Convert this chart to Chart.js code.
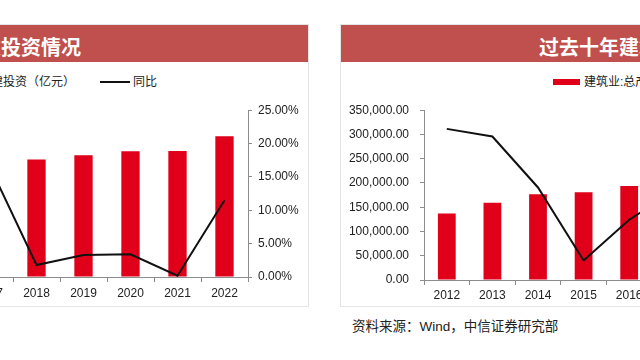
<!DOCTYPE html>
<html>
<head>
<meta charset="utf-8">
<script src="https://cdn.jsdelivr.net/npm/chart.js@4/dist/chart.umd.min.js"></script>
<style>
  body { margin: 0; width: 640px; height: 360px; overflow: hidden; position: relative; background: #fff;
         font-family: "Liberation Sans", "Noto Sans CJK SC", sans-serif; color: #222; }
  .panel { position: absolute; top: 24px; height: 283px; border: 1px solid #e4e4e4; box-sizing: border-box; }
  .head { position: absolute; left: 0; top: 0; right: 0; height: 37px; background: #c0504d; overflow: hidden; }
  .head span { position: absolute; top: 7px; color: #fff; font: bold 20px "Noto Sans CJK SC", sans-serif; white-space: nowrap; }
  .txt { position: absolute; font: 12px "Liberation Sans", "Noto Sans CJK SC", sans-serif; white-space: nowrap; line-height: 14px; }
  canvas { position: absolute; }
</style>
</head>
<body>
<div class="panel" style="left:-10px; width:319px;">
  <div class="head"><span style="right:227px;">基建投资情况</span></div>
</div>
<div class="panel" style="left:340px; width:400px;">
  <div class="head"><span style="left:198px;">过去十年建筑业总产值及增速</span></div>
</div>

<div class="txt" style="right:565px; top:75px;">基建投资（亿元）</div>
<div style="position:absolute; left:100px; top:81px; width:30px; height:2px; background:#111;"></div>
<div class="txt" style="left:133px; top:75px;">同比</div>

<div style="position:absolute; left:553px; top:79px; width:27px; height:6px; background:#e0001a;"></div>
<div class="txt" style="left:584px; top:75px;">建筑业:总产值（亿元）</div>

<div class="txt" style="left:352px; top:319px; font-size:13.5px; line-height:16px;">资料来源：Wind，中信证券研究部</div>

<canvas id="left" width="412" height="210" style="left:-104px; top:92px;"></canvas>
<canvas id="right" width="595" height="213" style="left:345px; top:92px;"></canvas>

<script>
const leftYears = ['2017', '2018', '2019', '2020', '2021', '2022'];
const leftInvest = [172000, 176200, 182300, 188300, 188900, 211100];
const leftYoy = [16.7, 1.8, 3.3, 3.4, 0.2, 11.5];

const rightYears = ['2012', '2013', '2014', '2015', '2016', '2017', '2018', '2019', '2020', '2021'];
const rightOutput = [137218, 159313, 176713, 180757, 193567, 213944, 225817, 248446, 263947, 293079];
const rightYoy = [17.8, 16.9, 10.9, 2.3, 7.1, 10.5, 9.9, 5.7, 6.2, 11.0];

const red = '#e0001a';
const axisGrey = '#8c8c8c';
const tickFont = { family: 'Liberation Sans', size: 12 };

function fixW(w) { return function(s) { s.width = w; }; }
function fixH(h) { return function(s) { s.height = h; }; }

function makeChart(id, years, bars, yoy, o) {
    return new Chart(document.getElementById(id), {
        data: {
            labels: years,
            datasets: [
                { type: 'line', data: yoy, yAxisID: 'y1', borderColor: '#111', borderWidth: 2,
                  pointRadius: 0, tension: 0, order: 0 },
                { type: 'bar', data: bars, yAxisID: 'y', backgroundColor: red,
                  categoryPercentage: 1, barPercentage: 0.39, order: 1 }
            ]
        },
        options: {
            responsive: false,
            animation: false,
            devicePixelRatio: 1,
            layout: { padding: { top: 9, left: 0, right: 0, bottom: 0 } },
            plugins: { legend: { display: false }, tooltip: { enabled: false } },
            scales: {
                x: {
                    afterFit: fixH(25),
                    border: { display: true, color: axisGrey },
                    grid: { offset: true, drawOnChartArea: false, tickLength: 5, color: axisGrey },
                    ticks: { color: '#222', font: tickFont, padding: o.xPad, maxRotation: 0 }
                },
                y: {
                    position: 'left',
                    min: 0, max: o.yMax,
                    afterFit: fixW(o.leftW),
                    border: { display: true, color: axisGrey },
                    grid: { drawOnChartArea: false, tickLength: 4, color: axisGrey },
                    ticks: { stepSize: o.yStep, color: '#222', font: tickFont, padding: 11,
                             callback: function(v) {
                                 return v.toLocaleString('en-US', { minimumFractionDigits: 2, maximumFractionDigits: 2 });
                             } }
                },
                y1: {
                    position: 'right',
                    min: 0, max: o.y1Max,
                    afterFit: fixW(60),
                    border: { display: true, color: axisGrey },
                    grid: { drawOnChartArea: false, tickLength: 4, color: axisGrey },
                    ticks: { stepSize: 5, color: '#222', font: tickFont, padding: 6,
                             callback: function(v) { return v.toFixed(2) + '%'; } }
                }
            }
        }
    });
}

makeChart('left', leftYears, leftInvest, leftYoy, { yMax: 250000, yStep: 50000, y1Max: 25, leftW: 70, xPad: 4 });
makeChart('right', rightYears, rightOutput, rightYoy, { yMax: 350000, yStep: 50000, y1Max: 20, leftW: 79, xPad: 3 });
</script>
</body>
</html>
